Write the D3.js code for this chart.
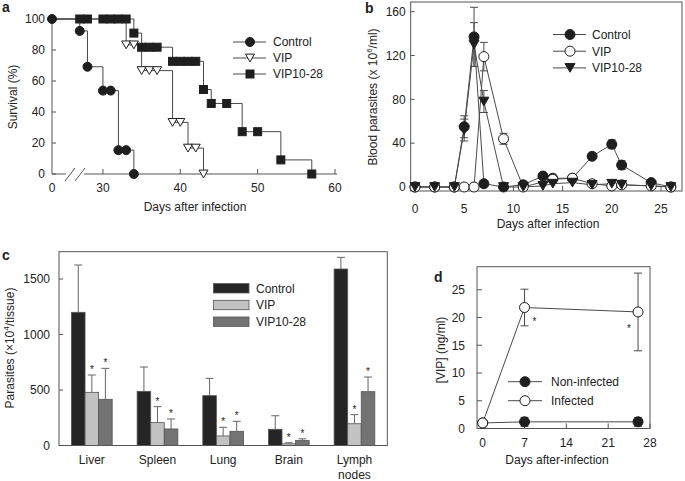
<!DOCTYPE html>
<html><head><meta charset="utf-8">
<script src="https://cdn.jsdelivr.net/npm/d3@7"></script>
<style>body{margin:0;background:#fff}svg{display:block}text{font-family:"Liberation Sans",Arial,sans-serif;fill:#222}</style>
</head><body><svg id="c" width="685" height="481"></svg>
<script>
// ---------- Panel a data: survival (%) ----------
const aSeries = ["Control","VIP","VIP10-28"];
const aControlDays = [0,27,28,30,31,32,33,34];
const aControlSurv = [100,92.3,69.2,53.8,53.8,15.4,15.4,0];
const aVipDays = [0,33,34,35,36,37,39,40,41,42,43];
const aVipSurv = [100,83.3,83.3,66.7,66.7,66.7,33.3,33.3,16.7,16.7,0];
const aV1028Days = [0,27,28,30,31,32,33,34,35,36,37,39,40,41,42,43,44,46,48,50,53,57];
const aV1028Surv = [100,100,100,100,100,100,100,90.9,81.8,81.8,81.8,72.7,72.7,72.7,72.7,54.5,45.5,45.5,27.3,27.3,9.1,0];
const aXTicks = [0,30,40,50,60];
const aYTicks = [0,20,40,60,80,100];

// ---------- Panel b data: blood parasites ----------
const bSeries = ["Control","VIP","VIP10-28"];
const bDays = [0,2,4,5,6,7,9,11,13,14,16,18,20,21,24,26];
const bControl = [0,0,0,55,137,3,0,2,10,8,8,28,39,20,4,0];
const bControlErr = [0,0,0,10,27,0,0,0,2,0,0,2,4,4,2,0];
const bVip = [0,0,0,0,0,119,44,0,null,7,8,3,1,2,1,0];
const bVipErr = [0,0,0,0,0,13,5,0,0,2,0,0,0,0,0,0];
const bV1028 = [0,0,0,52,130,78,0,0,1,3,4,2,3,2,1,0];
const bV1028Err = [0,0,0,10,20,10,0,0,0,0,0,0,0,0,0,0];
const bXTicks = [0,5,10,15,20,25];
const bYTicks = [0,40,80,120,160];

// ---------- Panel c data: tissue parasites ----------
const cTissues = ["Liver","Spleen","Lung","Brain","Lymph nodes"];
const cSeries = ["Control","VIP","VIP10-28"];
const cControl = [1200,488,449,146,1590];
const cControlErr = [426,219,156,122,105];
const cVip = [479,206,86,15,196];
const cVipErr = [156,144,78,10,82];
const cV1028 = [416,149,128,45,485];
const cV1028Err = [279,90,90,15,132];
const cVipStar = [true,true,true,true,true];
const cV1028Star = [true,true,true,true,true];
const cYTicks = [0,500,1000,1500];

// ---------- Panel d data: [VIP] ----------
const dSeries = ["Non-infected","Infected"];
const dDays = [0,7,26];
const dNonInf = [1,1.2,1.2];
const dNonInfErr = [0.3,0.8,0.8];
const dInf = [1,21.8,21];
const dInfErr = [0.3,3.3,7];
const dStars = [7,26];
const dXTicks = [0,7,14,21,28];
const dYTicks = [0,5,10,15,20,25];

const svg = d3.select("#c");
const LINE = "#4a4a4a", DARK = "#1e1e1e", AX = "#555";
const FS = 12;

function label(t, x, y) {
  svg.append("text").attr("x", x).attr("y", y).attr("font-size", 14).attr("font-weight", "bold").text(t);
}
function marker(g, type, x, y, s, fill) {
  if (type === "circle") {
    g.append("circle").attr("cx", x).attr("cy", y).attr("r", s/2)
      .attr("fill", fill ? DARK : "#fff").attr("stroke", DARK).attr("stroke-width", 1);
  } else if (type === "square") {
    g.append("rect").attr("x", x - s/2).attr("y", y - s/2).attr("width", s).attr("height", s)
      .attr("fill", DARK).attr("stroke", DARK);
  } else if (type === "tri") {
    const h = s * 0.87;
    g.append("path").attr("d", `M${x - s/2},${y - h/2}L${x + s/2},${y - h/2}L${x},${y + h/2}Z`)
      .attr("fill", fill ? DARK : "#fff").attr("stroke", DARK).attr("stroke-width", 1);
  }
}
function star(g, x, y) {
  g.append("text").attr("x", x).attr("y", y).attr("text-anchor", "middle").attr("font-size", 10)
    .style("fill", "#222").text("*");
}

// =================== Panel a ===================
{
  const x = d3.scaleLinear().domain([0, 26, 60]).range([52, 72, 335]);
  const y = d3.scaleLinear().domain([0, 100]).range([174, 19]);
  const g = svg.append("g");
  g.append("line").attr("x1", 52).attr("x2", 52).attr("y1", y(100)).attr("y2", y(0)).attr("stroke", AX);
  g.append("line").attr("x1", 52).attr("x2", 66).attr("y1", 174).attr("y2", 174).attr("stroke", AX);
  g.append("line").attr("x1", 84).attr("x2", 337).attr("y1", 174).attr("y2", 174).attr("stroke", AX);
  [70, 80].forEach(c => g.append("line").attr("x1", c - 5).attr("y1", 181).attr("x2", c + 5).attr("y2", 168).attr("stroke", AX));
  aYTicks.forEach(t => {
    g.append("line").attr("x1", 52).attr("x2", 56).attr("y1", y(t)).attr("y2", y(t)).attr("stroke", AX);
    g.append("text").attr("x", 45).attr("y", y(t) + 4.3).attr("text-anchor", "end").attr("font-size", FS).text(t);
  });
  aXTicks.forEach(t => {
    if (t > 0) g.append("line").attr("x1", x(t)).attr("x2", x(t)).attr("y1", 174).attr("y2", 169).attr("stroke", AX);
    g.append("text").attr("x", x(t)).attr("y", 192).attr("text-anchor", "middle").attr("font-size", FS).text(t);
  });
  g.append("text").attr("x", 195).attr("y", 211).attr("text-anchor", "middle").attr("font-size", FS).text("Days after infection");
  g.append("text").attr("transform", "translate(17,97) rotate(-90)").attr("text-anchor", "middle").attr("font-size", FS).text("Survival (%)");

  const sets = [
    {days: aControlDays, vals: aControlSurv, type: "circle", fill: true, s: 9},
    {days: aVipDays, vals: aVipSurv, type: "tri", fill: false, s: 9},
    {days: aV1028Days, vals: aV1028Surv, type: "square", fill: true, s: 8}
  ];
  const line = d3.line().x(d => x(d[0])).y(d => y(d[1])).curve(d3.curveStepAfter);
  sets.forEach(st => {
    const pts = st.days.map((d, i) => [d, st.vals[i]]);
    g.append("path").attr("d", line(pts)).attr("fill", "none").attr("stroke", LINE).attr("stroke-width", 1);
  });
  sets.forEach(st => {
    st.days.forEach((d, i) => {
      if (st.type !== "circle" && d === 0) return;
      marker(g, st.type, x(d), y(st.vals[i]), st.s, st.fill);
    });
  });
  const lg = [["circle", true, 9], ["tri", false, 9], ["square", true, 8]];
  aSeries.forEach((nm, i) => {
    const yy = 42 + i * 16;
    g.append("line").attr("x1", 233).attr("x2", 266).attr("y1", yy).attr("y2", yy).attr("stroke", LINE);
    marker(g, lg[i][0], 250, yy, lg[i][2], lg[i][1]);
    g.append("text").attr("x", 273).attr("y", yy + 4.3).attr("font-size", FS).text(nm);
  });
  label("a", 2, 12);
}

// =================== Panel b ===================
{
  const x = d3.scaleLinear().domain([0, 25]).range([415, 661]);
  const y = d3.scaleLinear().domain([0, 160]).range([187, 11.7]);
  const L = x(-0.44), R = 682, T = 2, B = 191;
  const g = svg.append("g");
  g.append("rect").attr("x", L).attr("y", T).attr("width", R - L).attr("height", B - T).attr("fill", "none").attr("stroke", AX);
  bYTicks.forEach(t => {
    g.append("line").attr("x1", L).attr("x2", L + 4).attr("y1", y(t)).attr("y2", y(t)).attr("stroke", AX);
    g.append("text").attr("x", 405.7).attr("y", y(t) + 4.3).attr("text-anchor", "end").attr("font-size", FS).text(t);
  });
  bXTicks.forEach(t => {
    g.append("line").attr("x1", x(t)).attr("x2", x(t)).attr("y1", B).attr("y2", B - 5).attr("stroke", AX);
    g.append("text").attr("x", x(t)).attr("y", 213).attr("text-anchor", "middle").attr("font-size", FS).text(t);
  });
  g.append("text").attr("x", 548).attr("y", 228).attr("text-anchor", "middle").attr("font-size", FS).text("Days after infection");
  const yt = g.append("text").attr("transform", "translate(377,97) rotate(-90)").attr("text-anchor", "middle").attr("font-size", FS);
  yt.append("tspan").text("Blood parasites (x 10");
  yt.append("tspan").attr("font-size", 8).attr("dy", -5).text("6");
  yt.append("tspan").attr("dy", 5).text("/ml)");

  const sets = [
    {vals: bControl, err: bControlErr, type: "circle", fill: true, s: 10},
    {vals: bVip, err: bVipErr, type: "circle", fill: false, s: 10},
    {vals: bV1028, err: bV1028Err, type: "tri", fill: true, s: 10}
  ];
  const line = d3.line().x(d => x(d[0])).y(d => y(d[1]));
  sets.forEach(st => {
    const pts = bDays.map((d, i) => [d, st.vals[i]]).filter(p => p[1] !== null);
    g.append("path").attr("d", line(pts)).attr("fill", "none").attr("stroke", LINE).attr("stroke-width", 1);
    bDays.forEach((d, i) => {
      if (st.vals[i] === null || !st.err[i]) return;
      const v = st.vals[i], e = st.err[i];
      g.append("line").attr("x1", x(d)).attr("x2", x(d)).attr("y1", y(v - e)).attr("y2", y(v + e)).attr("stroke", LINE);
      [v - e, v + e].forEach(w => g.append("line").attr("x1", x(d) - 4).attr("x2", x(d) + 4).attr("y1", y(w)).attr("y2", y(w)).attr("stroke", LINE));
    });
  });
  sets.forEach(st => {
    bDays.forEach((d, i) => {
      if (st.vals[i] === null) return;
      marker(g, st.type, x(d), y(st.vals[i]), st.s, st.fill);
    });
  });
  const lg = [["circle", true], ["circle", false], ["tri", true]];
  bSeries.forEach((nm, i) => {
    const yy = 34.5 + i * 16.7;
    g.append("line").attr("x1", 553).attr("x2", 586).attr("y1", yy).attr("y2", yy).attr("stroke", LINE);
    marker(g, lg[i][0], 570, yy, 10, lg[i][1]);
    g.append("text").attr("x", 592).attr("y", yy + 4.3).attr("font-size", FS).text(nm);
  });
  label("b", 365, 13);
}

// =================== Panel c ===================
{
  const L = 59, R = 387.3, T = 251.7, B = 445.5;
  const xb = d3.scaleBand().domain(cTissues).range([L, R]).paddingInner(0.38).paddingOuter(0.19);
  const xs = d3.scaleBand().domain(cSeries).range([0, xb.bandwidth()]);
  const y = d3.scaleLinear().domain([0, 1500]).range([B, 279]);
  const g = svg.append("g");
  const colors = {"Control": "#252525", "VIP": "#c2c2c2", "VIP10-28": "#737373"};
  const vals = {"Control": cControl, "VIP": cVip, "VIP10-28": cV1028};
  const errs = {"Control": cControlErr, "VIP": cVipErr, "VIP10-28": cV1028Err};
  const stars = {"Control": cTissues.map(() => false), "VIP": cVipStar, "VIP10-28": cV1028Star};
  cTissues.forEach((t, i) => {
    cSeries.forEach(s => {
      const bx = xb(t) + xs(s), w = xs.bandwidth(), v = vals[s][i], e = errs[s][i];
      const cx = bx + w / 2;
      g.append("line").attr("x1", cx).attr("x2", cx).attr("y1", y(v)).attr("y2", y(v + e)).attr("stroke", "#666");
      g.append("line").attr("x1", cx - 4).attr("x2", cx + 4).attr("y1", y(v + e)).attr("y2", y(v + e)).attr("stroke", "#666");
      g.append("rect").attr("x", bx).attr("y", y(v)).attr("width", w).attr("height", B - y(v))
        .attr("fill", colors[s]).attr("stroke", "#555").attr("stroke-width", 0.8);
      if (stars[s][i]) star(g, cx, y(v + e) - 2);
    });
    const parts = t.split(" ");
    parts.forEach((p, j) => g.append("text").attr("x", xb(t) + xb.bandwidth() / 2).attr("y", 464 + j * 15)
      .attr("text-anchor", "middle").attr("font-size", FS).text(p));
  });
  g.append("rect").attr("x", L).attr("y", T).attr("width", R - L).attr("height", B - T).attr("fill", "none").attr("stroke", AX);
  cYTicks.forEach(t => {
    g.append("line").attr("x1", L).attr("x2", L + 4).attr("y1", y(t)).attr("y2", y(t)).attr("stroke", AX);
    g.append("text").attr("x", 50).attr("y", y(t) + 4.3).attr("text-anchor", "end").attr("font-size", FS).text(t);
  });
  const yt = g.append("text").attr("transform", "translate(14,348) rotate(-90)").attr("text-anchor", "middle").attr("font-size", FS);
  yt.append("tspan").text("Parasites (\u00d710");
  yt.append("tspan").attr("font-size", 8).attr("dy", -5).text("4");
  yt.append("tspan").attr("dy", 5).text("/tissue)");
  cSeries.forEach((s, i) => {
    const yy = 288.3 + i * 16.7;
    g.append("rect").attr("x", 213.5).attr("y", yy - 4.7).attr("width", 35.5).attr("height", 9.4)
      .attr("fill", colors[s]).attr("stroke", "#555").attr("stroke-width", 0.8);
    g.append("text").attr("x", 256).attr("y", yy + 4.3).attr("font-size", FS).text(s);
  });
  label("c", 2, 260);
}

// =================== Panel d ===================
{
  const x = d3.scaleLinear().domain([0, 28]).range([482.7, 650]);
  const y = d3.scaleLinear().domain([0, 25]).range([428.5, 289.75]);
  const L = x(-0.95), R = 650, T = 266.7, B = 428.5;
  const g = svg.append("g");
  g.append("rect").attr("x", L).attr("y", T).attr("width", R - L).attr("height", B - T).attr("fill", "none").attr("stroke", AX);
  dYTicks.forEach(t => {
    g.append("line").attr("x1", L).attr("x2", L + 5).attr("y1", y(t)).attr("y2", y(t)).attr("stroke", AX);
    g.append("text").attr("x", 465).attr("y", y(t) + 4.3).attr("text-anchor", "end").attr("font-size", FS).text(t);
  });
  dXTicks.forEach(t => {
    g.append("line").attr("x1", x(t)).attr("x2", x(t)).attr("y1", B).attr("y2", B - 5).attr("stroke", AX);
    g.append("text").attr("x", x(t)).attr("y", 447).attr("text-anchor", "middle").attr("font-size", FS).text(t);
  });
  g.append("text").attr("x", 557).attr("y", 464).attr("text-anchor", "middle").attr("font-size", FS).text("Days after-infection");
  g.append("text").attr("transform", "translate(445,350) rotate(-90)").attr("text-anchor", "middle").attr("font-size", FS).text("[VIP] (ng/ml)");
  const sets = [
    {vals: dNonInf, err: dNonInfErr, fill: true},
    {vals: dInf, err: dInfErr, fill: false}
  ];
  const line = d3.line().x(d => x(d[0])).y(d => y(d[1]));
  sets.forEach(st => {
    g.append("path").attr("d", line(dDays.map((d, i) => [d, st.vals[i]]))).attr("fill", "none").attr("stroke", LINE);
    dDays.forEach((d, i) => {
      const v = st.vals[i], e = st.err[i];
      g.append("line").attr("x1", x(d)).attr("x2", x(d)).attr("y1", y(v - e)).attr("y2", y(v + e)).attr("stroke", LINE);
      [v - e, v + e].forEach(w => g.append("line").attr("x1", x(d) - 4).attr("x2", x(d) + 4).attr("y1", y(w)).attr("y2", y(w)).attr("stroke", LINE));
    });
  });
  sets.forEach(st => dDays.forEach((d, i) => marker(g, "circle", x(d), y(st.vals[i]), 10, st.fill)));
  star(g, x(dStars[0]) + 10, 325);
  star(g, x(dStars[1]) - 9, 332);
  dSeries.forEach((nm, i) => {
    const yy = 381.7 + i * 19;
    g.append("line").attr("x1", 508).attr("x2", 542).attr("y1", yy).attr("y2", yy).attr("stroke", LINE);
    marker(g, "circle", 525, yy, 10, i === 0);
    g.append("text").attr("x", 551).attr("y", yy + 4.3).attr("font-size", FS).text(nm);
  });
  label("d", 434, 282);
}
</script></body></html>
